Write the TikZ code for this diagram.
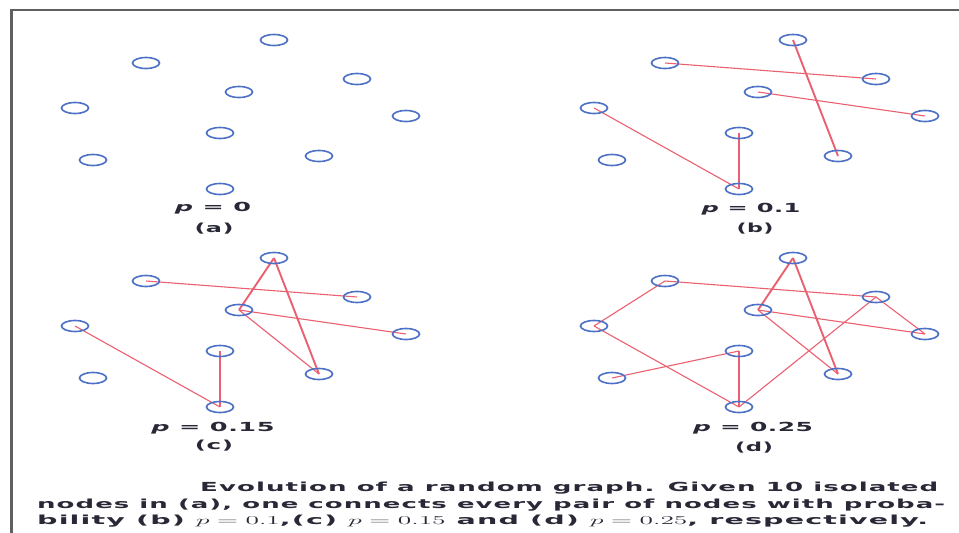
\documentclass[tikz,border=0pt]{standalone}
\usepackage{fontspec}
\usepackage{graphicx}
\usetikzlibrary{shapes.geometric}
\newfontfamily\capfont[LetterSpace=4]{DejaVu Sans}
\newfontfamily\labfont[LetterSpace=2]{DejaVu Sans}
\definecolor{nodeblue}{RGB}{76,112,198}
\definecolor{edgered}{RGB}{234,96,112}
\definecolor{framegray}{RGB}{95,95,95}
\definecolor{txt}{RGB}{40,40,55}
\pgfdeclarelayer{bg}
\pgfsetlayers{bg,main}
\tikzset{
  gnode/.style={draw=nodeblue, ellipse, line width=1.6pt, minimum width=27pt, minimum height=11pt, inner sep=0pt},
  gedge/.style={draw=edgered, line width=1.1pt},
  gthick/.style={draw=edgered, line width=1.9pt},
  lab/.style={inner sep=0pt, text=txt, anchor=center},
  capline/.style={inner sep=0pt, text=txt, anchor=base west}
}
\begin{document}
\begin{tikzpicture}[x=1pt,y=-1pt]
\useasboundingbox (0,0) rectangle (959,533);
% frame
\draw[framegray, line width=2pt] (10,9.5) -- (959,9.5);
\draw[framegray, line width=3pt] (11.5,9) -- (11.5,533);
% nodes of the four panels
\foreach \p/\dx/\dy in {a/0/0, b/519/0, c/0/218, d/519/218}{
  \foreach \i/\x/\y in {1/274/40, 2/146/63, 3/357/79, 4/239/92, 5/75/108, 6/406/116, 7/220/133, 8/93/160, 9/319/156, 10/220/189}{
    \node[gnode] (\p\i) at (\x+\dx,\y+\dy) {};
  }
}
\begin{pgfonlayer}{bg}
% (b)
\draw[gthick] (b1.center) -- (b9.center);
\draw[gedge] (b2.center) -- (b3.center);
\draw[gedge] (b4.center) -- (b6.center);
\draw[gedge] (b5.center) -- (b10.center);
\draw[gthick] (b7.center) -- (b10.center);
% (c)
\draw[gthick] (c1.center) -- (c9.center);
\draw[gthick] (c1.center) -- (c4.center);
\draw[gedge] (c2.center) -- (c3.center);
\draw[gedge] (c4.center) -- (c6.center);
\draw[gedge] (c4.center) -- (c9.center);
\draw[gedge] (c5.center) -- (c10.center);
\draw[gthick] (c7.center) -- (c10.center);
% (d)
\draw[gthick] (d1.center) -- (d9.center);
\draw[gthick] (d1.center) -- (d4.center);
\draw[gedge] (d2.center) -- (d3.center);
\draw[gedge] (d4.center) -- (d6.center);
\draw[gedge] (d4.center) -- (d9.center);
\draw[gedge] (d5.center) -- (d2.center);
\draw[gedge] (d5.center) -- (d10.center);
\draw[gedge] (d8.center) -- (d7.center);
\draw[gthick] (d7.center) -- (d10.center);
\draw[gedge] (d10.center) -- (d3.center);
\draw[gedge] (d3.center) -- (d6.center);
\end{pgfonlayer}
% panel labels
\node[lab] (pa) at (213,208) {\resizebox{76pt}{\height}{\labfont\bfseries\fontsize{12.5}{14}\selectfont{\itshape p} = 0}};
\node[lab] (la) at (214,229) {\resizebox{39pt}{\height}{\labfont\bfseries\fontsize{12.5}{14}\selectfont (a)}};
\node[lab] (pb) at (751,209) {\resizebox{99pt}{\height}{\labfont\bfseries\fontsize{12.5}{14}\selectfont{\itshape p} = 0.1}};
\node[lab] (lb) at (755,229) {\resizebox{37pt}{\height}{\labfont\bfseries\fontsize{12.5}{14}\selectfont (b)}};
\node[lab] (pc) at (213,428) {\resizebox{123pt}{\height}{\labfont\bfseries\fontsize{12.5}{14}\selectfont{\itshape p} = 0.15}};
\node[lab] (lc) at (214,446) {\resizebox{38pt}{\height}{\labfont\bfseries\fontsize{12.5}{14}\selectfont (c)}};
\node[lab] (pd) at (753,428) {\resizebox{120pt}{\height}{\labfont\bfseries\fontsize{12.5}{14}\selectfont{\itshape p} = 0.25}};
\node[lab] (ld) at (754,448) {\resizebox{38pt}{\height}{\labfont\bfseries\fontsize{12.5}{14}\selectfont (d)}};
% caption
\node[capline] (cap1) at (200,491) {\resizebox{738pt}{\height}{\capfont\bfseries\fontsize{12.5}{14}\selectfont Evolution of a random graph. Given 10 isolated}};
\node[capline] (cap2) at (37,508) {\resizebox{908pt}{\height}{\capfont\bfseries\fontsize{12.5}{14}\selectfont nodes in (a), one connects every pair of nodes with proba-}};
\node[capline] (cap3) at (37,524) {\resizebox{891pt}{\height}{\capfont\bfseries\fontsize{12.5}{14}\selectfont bility (b) $p=0.1$,(c) $p=0.15$ and (d) $p=0.25$, respectively.}};
\end{tikzpicture}
\end{document}
